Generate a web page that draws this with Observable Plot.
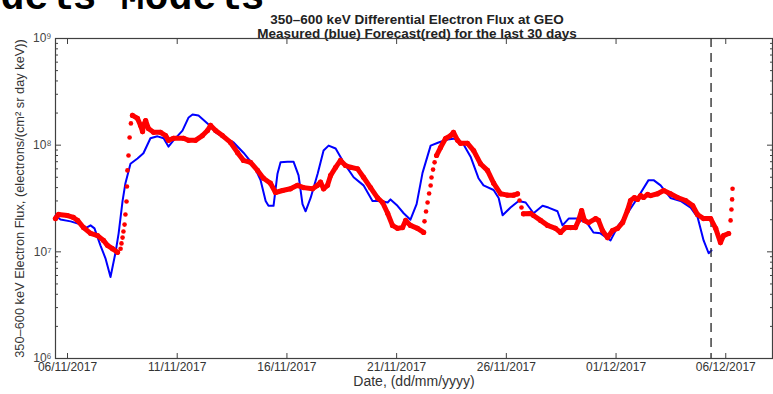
<!DOCTYPE html>
<html>
<head>
<meta charset="utf-8">
<script src="https://cdn.jsdelivr.net/npm/d3@7"></script>
<script src="https://cdn.jsdelivr.net/npm/@observablehq/plot@0.6"></script>
<style>
  html, body { margin: 0; padding: 0; background: #fff; overflow: hidden; }
  #chart svg { display: block; }
</style>
</head>
<body>
<div id="chart"></div>
<script>
// Days are counted from 06/11/2017 00:00 UT; flux in electrons/(cm² sr day keV).

// Measured 350-600 keV flux at GEO: [day, flux]
const measured = [
  [-0.55, 2.19e7], [-0.32, 2.01e7], [0.14, 1.93e7], [0.59, 1.81e7], [0.87, 1.69e7],
  [1.05, 1.77e7], [1.23, 1.66e7], [1.50, 1.15e7], [1.73, 8.7e6], [1.96, 5.8e6],
  [2.19, 9.9e6], [2.33, 1.49e7], [2.51, 3.0e7], [2.64, 4.4e7], [2.87, 6.7e7],
  [3.19, 7.5e7], [3.46, 8.4e7], [3.78, 1.16e8], [4.10, 1.21e8], [4.38, 1.16e8],
  [4.60, 9.7e7], [4.83, 1.11e8], [5.24, 1.37e8], [5.52, 1.82e8], [5.70, 1.94e8],
  [5.97, 1.90e8], [6.38, 1.60e8], [6.75, 1.32e8], [7.11, 1.18e8], [7.57, 1.06e8],
  [8.02, 8.5e7], [8.48, 6.5e7], [8.80, 4.7e7], [9.03, 3.0e7], [9.16, 2.7e7],
  [9.39, 2.7e7], [9.57, 5.4e7], [9.71, 6.9e7], [10.03, 7.0e7], [10.30, 7.0e7],
  [10.53, 5.2e7], [10.71, 2.8e7], [10.85, 2.4e7], [11.08, 3.2e7], [11.40, 5.4e7],
  [11.67, 8.9e7], [11.90, 9.9e7], [12.22, 9.3e7], [12.58, 6.9e7], [13.04, 5.0e7],
  [13.49, 4.2e7], [13.90, 3.0e7], [14.27, 3.0e7], [14.59, 2.9e7], [14.72, 3.1e7],
  [15.04, 2.7e7], [15.32, 2.3e7], [15.63, 2.0e7], [15.91, 2.8e7], [16.18, 5.5e7],
  [16.55, 9.9e7], [16.91, 1.06e8], [17.32, 1.13e8], [17.59, 1.15e8], [18.00, 1.06e8],
  [18.37, 7.8e7], [18.73, 4.9e7], [18.96, 4.2e7], [19.42, 3.8e7], [19.65, 3.2e7],
  [19.83, 2.2e7], [20.19, 2.6e7], [20.56, 3.0e7], [20.88, 2.9e7], [21.24, 2.3e7],
  [21.65, 2.7e7], [21.92, 2.6e7], [22.33, 2.4e7], [22.56, 1.77e7], [22.84, 2.05e7],
  [23.25, 2.05e7], [23.70, 1.84e7], [23.97, 1.52e7], [24.29, 1.49e7], [24.75, 1.28e7],
  [25.11, 1.77e7], [25.52, 2.3e7], [25.98, 3.2e7], [26.48, 4.7e7], [26.71, 4.7e7],
  [27.03, 4.2e7], [27.48, 3.2e7], [27.94, 3.0e7], [28.40, 2.6e7], [28.72, 2.1e7],
  [28.99, 1.28e7], [29.22, 9.7e6], [29.35, 1.03e7]
];

// Forecast flux: slowly varying runs (dense samples) ...
const forecastRun1 = [
  [-0.55, 2.05e7], [-0.41, 2.24e7], [0.00, 2.19e7], [0.27, 2.10e7], [0.46, 1.97e7],
  [0.73, 1.69e7], [1.05, 1.49e7], [1.37, 1.42e7], [1.64, 1.28e7], [1.82, 1.15e7],
  [2.05, 1.07e7], [2.28, 9.9e6]
];
const forecastRun2 = [
  [2.96, 1.90e8], [3.19, 1.78e8], [3.33, 1.53e8], [3.42, 1.34e8], [3.46, 1.53e8],
  [3.56, 1.70e8], [3.69, 1.43e8], [3.92, 1.32e8], [4.24, 1.32e8], [4.47, 1.23e8],
  [4.60, 1.11e8], [4.83, 1.16e8], [5.29, 1.16e8], [5.52, 1.11e8], [5.83, 1.11e8],
  [6.15, 1.23e8], [6.38, 1.37e8], [6.52, 1.53e8], [6.75, 1.37e8], [7.06, 1.23e8],
  [7.43, 1.06e8], [7.75, 8.5e7], [8.02, 7.2e7], [8.34, 6.9e7], [8.66, 5.8e7],
  [8.93, 4.9e7], [9.25, 4.4e7], [9.48, 3.6e7], [9.80, 3.76e7], [10.16, 3.9e7],
  [10.48, 4.2e7], [10.76, 4.0e7], [11.17, 3.9e7], [11.39, 4.2e7], [11.53, 4.5e7],
  [11.67, 3.9e7], [11.85, 4.2e7], [11.99, 5.2e7], [12.22, 6.2e7], [12.44, 7.2e7],
  [12.67, 6.45e7], [12.90, 6.2e7], [13.22, 6.0e7], [13.49, 5.0e7], [13.81, 4.0e7],
  [14.13, 3.2e7], [14.36, 2.9e7], [14.59, 2.3e7], [14.81, 1.77e7], [15.04, 1.66e7],
  [15.27, 1.69e7], [15.41, 1.97e7], [15.63, 1.77e7], [15.95, 1.66e7], [16.23, 1.52e7]
];
const forecastRun3 = [
  [16.82, 8.0e7], [17.00, 9.5e7], [17.23, 1.155e8], [17.46, 1.23e8], [17.59, 1.32e8],
  [17.78, 1.11e8], [17.91, 1.04e8], [18.23, 1.04e8], [18.51, 8.9e7], [18.82, 6.7e7],
  [19.14, 5.8e7], [19.42, 4.4e7], [19.74, 3.5e7], [20.05, 3.4e7], [20.33, 3.4e7],
  [20.51, 3.5e7]
];
const forecastRun4 = [
  [20.78, 2.27e7], [21.10, 2.29e7], [21.24, 2.19e7], [21.56, 1.97e7], [21.88, 1.77e7],
  [22.24, 1.66e7], [22.47, 1.52e7], [22.70, 1.69e7], [22.93, 1.69e7], [23.15, 1.69e7],
  [23.29, 1.97e7], [23.43, 2.44e7], [23.56, 1.97e7], [23.75, 1.88e7], [24.07, 2.05e7],
  [24.20, 1.97e7], [24.38, 1.585e7], [24.61, 1.36e7], [24.84, 1.585e7], [25.07, 1.66e7],
  [25.30, 1.88e7], [25.52, 2.44e7], [25.66, 3.03e7], [25.84, 3.23e7], [25.98, 3.1e7],
  [26.12, 3.37e7], [26.25, 3.23e7], [26.44, 3.45e7], [26.57, 3.37e7], [26.89, 3.5e7],
  [27.17, 3.76e7], [27.48, 3.5e7], [27.80, 3.23e7], [28.17, 3.03e7], [28.49, 2.72e7],
  [28.71, 2.24e7], [28.99, 2.05e7], [29.31, 2.05e7], [29.54, 1.66e7], [29.76, 1.22e7],
  [29.90, 1.42e7], [30.13, 1.485e7]
];
// ... and the sparse samples during fast rises and drops
const forecastRise1 = [
  [2.42, 1.07e7], [2.46, 1.20e7], [2.51, 1.36e7], [2.55, 1.55e7], [2.60, 1.8e7],
  [2.64, 2.24e7], [2.69, 2.96e7], [2.71, 4.1e7], [2.73, 5.8e7], [2.78, 8.0e7],
  [2.83, 1.18e8], [2.89, 1.6e8]
];
const forecastRise2 = [
  [16.27, 1.93e7], [16.34, 2.39e7], [16.41, 2.90e7], [16.48, 3.52e7], [16.55, 4.19e7],
  [16.59, 4.98e7], [16.66, 5.9e7], [16.73, 6.9e7]
];
const forecastDrop = [[20.60, 3.03e7], [20.69, 2.6e7]];
const forecastRise3 = [[30.22, 1.97e7], [30.26, 2.49e7], [30.29, 3.1e7], [30.31, 3.9e7]];

// Time of the latest measurement (dashed marker)
const lastMeasurementDay = 29.33;

// Axis ticks and labels
const dateTicks = ["06/11/2017", "11/11/2017", "16/11/2017", "21/11/2017", "26/11/2017", "01/12/2017", "06/12/2017"];
const fluxDecades = [1e6, 1e7, 1e8, 1e9];
const decadeLabels = ["10⁶", "10⁷", "10⁸", "10⁹"];

const titleLines = ["350–600 keV Differential Electron Flux at GEO", "Measured (blue) Forecast(red) for the last 30 days"];
const xLabel = "Date, (dd/mm/yyyy)";
const yLabel = "350–600 keV Electron Flux, (electrons/(cm² sr day keV))";
const banner = "dels Models";

// ---- build tables ----
const t0 = Date.UTC(2017, 10, 6);
const toDate = d => new Date(t0 + d * 864e5);
const parseDay = d3.utcParse("%d/%m/%Y");
const fmtDay = d3.utcFormat("%d/%m/%Y");

const measuredRows = measured.map(([d, v]) => ({t: toDate(d), v}));
const runRows = [forecastRun1, forecastRun2, forecastRun3, forecastRun4]
  .flatMap((run, i) => run.map(([d, v]) => ({t: toDate(d), v, run: i})));
const stepRows = [forecastRise1, forecastRise2, forecastDrop, forecastRise3]
  .flat().map(([d, v]) => ({t: toDate(d), v}));

const xTicks = dateTicks.map(parseDay);
const minorTicks = fluxDecades.slice(0, -1).flatMap(p => d3.range(2, 10).map(k => k * p));
const decadeText = new Map(fluxDecades.map((p, i) => [p, decadeLabels[i]]));

const axisColor = "#404040";
const font = "Liberation Sans, Arial, sans-serif";

const chart = Plot.plot({
  width: 773,
  height: 394,
  marginLeft: 55,
  marginRight: 1,
  marginTop: 38,
  marginBottom: 36,
  style: {fontFamily: font, fontSize: "12px", color: "#333", background: "#fff"},
  x: {type: "utc", domain: [toDate(-0.547), toDate(32.13)]},
  y: {type: "log", domain: [1e6, 1e9]},
  marks: [
    // cropped heading of the surrounding page
    Plot.text([banner], {frameAnchor: "top-left", dx: -55, dy: -30, textAnchor: "start", lineAnchor: "bottom",
      fontFamily: "Liberation Mono, monospace", fontWeight: "bold", fontSize: 40, fill: "#000"}),
    // titles and axis labels
    Plot.text([titleLines[0]], {frameAnchor: "top", dx: 3, dy: -24, fontWeight: "bold", fontSize: 13.5, fill: "#222"}),
    Plot.text([titleLines[1]], {frameAnchor: "top", dx: 3, dy: -10, fontWeight: "bold", fontSize: 13.5, fill: "#222"}),
    Plot.text([xLabel], {frameAnchor: "bottom", dy: 27, fontSize: 14, fill: "#333"}),
    Plot.text([yLabel], {frameAnchor: "left", dx: -36, rotate: -90, textAnchor: "middle", fontSize: 12.8, fill: "#333"}),

    // box and inward ticks
    Plot.frame({stroke: axisColor, strokeWidth: 1.2}),
    Plot.axisX({anchor: "bottom", ticks: xTicks, tickSize: -5, tickPadding: 9, tickFormat: fmtDay,
      label: null, stroke: axisColor, fill: "#333", fontSize: 12}),
    Plot.axisX({anchor: "top", ticks: xTicks, tickSize: -5, tickFormat: () => "", label: null, stroke: axisColor}),
    Plot.axisY({anchor: "left", ticks: fluxDecades, tickSize: -6, tickPadding: 10, tickFormat: p => decadeText.get(p),
      label: null, stroke: axisColor, fill: "#444", fontSize: 12}),
    Plot.axisY({anchor: "left", ticks: minorTicks, tickSize: -3, tickFormat: () => "", label: null, stroke: axisColor}),
    Plot.axisY({anchor: "right", ticks: fluxDecades, tickSize: -6, tickFormat: () => "", label: null, stroke: axisColor}),
    Plot.axisY({anchor: "right", ticks: minorTicks, tickSize: -3, tickFormat: () => "", label: null, stroke: axisColor}),

    // measured flux
    Plot.line(measuredRows, {x: "t", y: "v", stroke: "#0000ff", strokeWidth: 2}),

    // latest measurement marker
    Plot.ruleX([toDate(lastMeasurementDay)], {stroke: "#333", strokeWidth: 1.4, strokeDasharray: "9,6"}),

    // forecast flux
    Plot.line(runRows, {x: "t", y: "v", z: "run", stroke: "#ff0000", strokeWidth: 5,
      strokeLinejoin: "round", strokeLinecap: "round"}),
    Plot.dot(runRows, {x: "t", y: "v", r: 2.6, fill: "#ff0000"}),
    Plot.dot(stepRows, {x: "t", y: "v", r: 2.3, fill: "#ff0000"})
  ]
});

document.getElementById("chart").append(chart);
</script>
</body>
</html>
